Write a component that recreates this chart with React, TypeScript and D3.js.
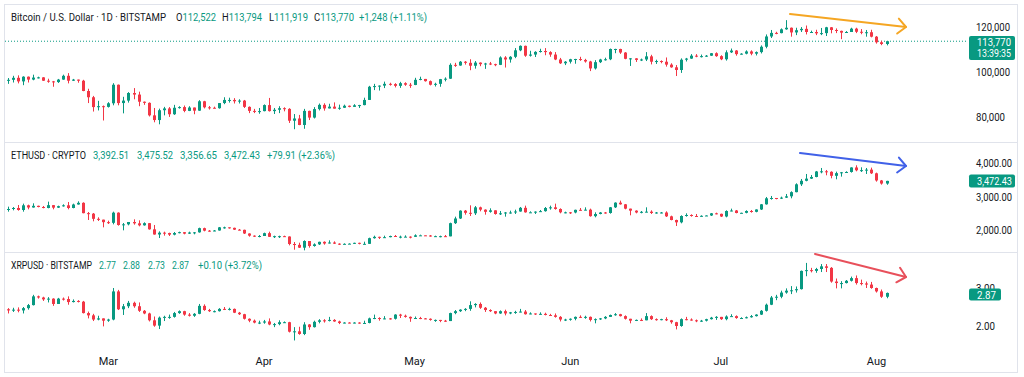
import React from "react";
import * as d3 from "d3";

// ---------- DATA (daily candles, Feb 9 – Aug 3, 2025) ----------
const startDay = new Date(2025, 1, 9);
const endDay = new Date(2025, 7, 3);
const monthTicks = ["Mar", "Apr", "May", "Jun", "Jul", "Aug"];
const monthTickDates = [new Date(2025, 2, 1), new Date(2025, 3, 1), new Date(2025, 4, 1), new Date(2025, 5, 1), new Date(2025, 6, 1), new Date(2025, 7, 1)];

// BTC in thousands USD
const btcOpen0 = 96.4;
const btcClose = [
  96.5,97.4,95.8,97.9,96.6,97.5,97.6,96.1,95.8,95.5,96.6,98.3,96.1,96.6,96.1,91.5,88.7,84.3,84.7,84.4,
  86.0,94.3,86.1,87.2,90.6,89.9,86.7,86.2,80.6,78.5,82.9,83.7,81.1,84.0,84.3,82.6,84.1,82.7,86.9,84.2,84.0,83.8,86.1,87.5,87.5,86.9,87.2,84.4,82.6,82.3,82.5,
  85.2,82.5,83.1,83.8,83.5,78.2,79.2,76.3,82.6,79.6,83.4,85.3,83.7,84.5,83.6,84.0,84.9,84.4,85.1,85.2,87.5,93.4,93.7,93.9,94.7,94.6,93.8,95.0,94.3,94.2,
  96.5,96.9,95.9,94.3,94.7,96.8,97.0,103.2,102.9,104.6,104.1,102.8,104.2,103.5,103.8,103.5,103.2,106.5,105.6,106.8,109.7,111.7,107.3,107.8,109.0,109.4,108.9,107.8,105.6,103.9,104.6,
  105.7,105.8,105.4,104.7,101.6,104.4,105.6,105.7,110.3,110.3,108.7,105.9,106.1,105.4,105.6,107.0,104.6,104.9,104.6,103.3,102.1,100.9,105.5,106.0,107.3,106.9,107.1,107.3,108.4,107.1,
  105.7,108.8,109.6,108.0,108.2,109.2,108.2,108.9,111.3,115.9,117.5,117.4,119.1,119.8,117.7,118.7,119.3,117.9,117.9,117.3,117.4,120.0,118.8,118.4,117.6,117.9,119.4,118.0,117.8,117.8,115.8,
  113.3,112.522,113.77,
];
const btcHigh = [
  97.3,98.3,98.5,98.1,98.0,98.8,97.9,97.7,97.0,96.0,96.9,98.8,99.5,96.9,96.6,96.5,92.5,89.3,87.1,85.0,
  86.5,95.0,94.4,88.9,91.0,92.8,91.2,86.8,86.4,83.9,83.6,84.4,84.3,85.3,84.7,85.0,84.7,84.0,87.4,87.1,84.8,84.5,86.1,88.7,88.5,88.3,87.8,87.5,84.6,83.5,83.9,
  85.5,88.4,83.9,84.7,84.2,83.8,81.2,80.8,83.5,82.7,84.3,85.9,86.0,85.8,86.4,85.4,85.4,85.0,85.6,85.3,88.5,93.8,94.7,94.0,95.7,95.2,95.0,95.6,95.4,95.1,
  97.4,97.9,96.9,96.2,95.2,96.9,97.6,103.9,104.1,104.9,104.9,105.7,104.9,104.3,104.1,104.5,103.7,107.0,107.1,107.1,110.7,111.9,111.8,109.5,109.3,110.4,110.7,109.3,108.9,106.3,104.9,
  105.9,105.9,106.8,105.9,105.0,105.3,105.9,106.4,110.5,110.4,110.4,108.9,106.2,106.2,106.0,108.9,107.7,105.5,105.2,106.5,103.9,103.1,106.1,106.3,108.0,108.0,107.8,107.6,108.5,108.8,
  107.5,109.7,110.5,109.8,108.4,109.7,109.7,109.2,111.9,116.8,118.8,118.0,119.5,123.2,119.9,119.8,120.1,120.8,118.5,118.9,119.7,120.2,120.1,119.5,118.5,118.3,119.8,119.8,119.2,118.8,118.9,
  116.1,114.0,113.794,
];
const btcLow = [
  94.7,95.3,94.9,94.1,95.3,96.3,97.1,96.0,95.2,93.4,95.1,96.5,94.9,96.0,95.2,91.4,86.1,82.3,82.8,78.3,
  84.1,85.1,85.1,81.5,86.3,87.8,84.7,85.3,80.1,77.5,76.6,80.6,79.9,80.8,83.6,82.0,82.5,81.1,82.6,83.7,83.2,83.7,83.6,85.6,86.3,85.9,85.9,83.9,81.6,81.6,81.3,
  82.4,82.3,81.2,81.6,82.4,77.2,74.4,76.2,74.6,78.5,79.2,82.8,82.7,83.7,83.6,83.1,83.9,84.2,84.4,83.9,85.1,87.6,91.9,91.7,92.8,93.9,93.1,92.9,93.8,92.9,
  94.1,96.3,95.7,94.0,93.5,93.4,95.8,96.9,102.3,102.8,103.3,100.8,101.5,102.6,101.4,103.1,102.6,103.1,102.0,104.2,106.2,109.3,106.8,106.9,106.7,108.7,107.5,106.8,105.3,103.6,103.1,
  103.8,103.7,105.0,104.2,100.4,101.1,104.0,105.1,105.3,108.4,108.1,105.7,102.7,104.5,104.9,104.9,103.4,103.6,103.9,102.4,101.9,98.2,99.6,104.7,105.9,106.6,106.5,106.8,107.2,106.8,
  105.3,105.1,108.5,107.3,107.8,107.9,107.5,107.4,108.3,110.6,115.2,116.9,117.3,118.9,115.8,116.5,117.9,116.8,117.5,116.5,116.5,116.1,117.3,117.4,114.7,117.5,117.9,117.4,116.9,115.8,115.5,
  112.7,112.0,111.919,
];

const ethOpen0 = 2625;
const ethClose = [
  2630,2660,2600,2740,2675,2725,2690,2660,2745,2670,2715,2740,2660,2765,2815,2505,2490,2335,2310,2235,
  2215,2520,2150,2170,2240,2200,2140,2205,2020,1865,1920,1910,1860,1910,1935,1890,1925,1930,2055,1980,1965,1985,2080,2080,2065,2010,2005,1895,1830,1805,1820,
  1905,1795,1815,1815,1805,1580,1555,1470,1670,1520,1570,1645,1595,1625,1590,1580,1585,1590,1615,1585,1585,1755,1795,1770,1785,1820,1795,1800,1800,1795,
  1840,1840,1835,1810,1815,1815,1810,2205,2345,2580,2515,2500,2680,2610,2545,2590,2480,2500,2525,2525,2555,2665,2530,2530,2550,2565,2660,2680,2630,2530,2530,
  2525,2605,2595,2610,2415,2480,2525,2510,2680,2820,2770,2640,2580,2525,2545,2550,2510,2525,2525,2410,2300,2230,2420,2450,2420,2415,2425,2435,2500,2485,
  2405,2570,2585,2510,2515,2570,2545,2615,2770,2950,2960,2945,2970,3010,3135,3370,3475,3540,3590,3755,3760,3745,3625,3705,3730,3740,3875,3790,3795,3810,3700,
  3485,3392.51,3472.43,
];
const ethHigh = [
  2700,2690,2750,2790,2760,2800,2730,2720,2850,2750,2730,2770,2840,2790,2860,2830,2540,2510,2380,2310,
  2280,2550,2530,2210,2240,2320,2290,2230,2210,2150,1960,1950,1920,1940,1950,1940,1950,1940,2070,2070,2000,2000,2090,2100,2070,2070,2030,2010,1900,1840,1850,
  1920,1950,1830,1830,1830,1810,1640,1620,1690,1670,1600,1650,1660,1690,1660,1600,1600,1600,1620,1620,1650,1770,1830,1800,1830,1830,1850,1830,1840,1810,
  1870,1860,1845,1850,1830,1830,1850,2220,2400,2590,2600,2740,2720,2700,2620,2650,2590,2570,2540,2580,2610,2690,2730,2560,2560,2600,2690,2730,2790,2650,2550,
  2540,2610,2660,2680,2640,2530,2540,2540,2690,2830,2880,2780,2640,2590,2570,2680,2590,2540,2540,2560,2430,2310,2440,2500,2470,2480,2440,2440,2510,2520,
  2490,2590,2640,2600,2520,2590,2600,2620,2780,2990,3020,2960,3000,3080,3160,3400,3530,3680,3650,3770,3860,3800,3760,3750,3740,3760,3880,3940,3880,3860,3870,
  3720,3500,3475.52,
];
const ethLow = [
  2550,2590,2580,2550,2620,2670,2680,2650,2650,2620,2660,2700,2620,2650,2760,2500,2300,2260,2270,2080,
  2180,2170,2130,1990,2140,2160,2110,2130,2010,1860,1760,1830,1820,1840,1900,1870,1880,1870,1920,1960,1950,1970,1980,2040,2040,2000,1990,1880,1800,1790,1780,
  1820,1790,1760,1760,1790,1540,1410,1460,1390,1470,1500,1550,1560,1600,1580,1550,1570,1580,1580,1570,1570,1580,1740,1730,1760,1780,1790,1750,1790,1750,
  1790,1830,1830,1800,1790,1780,1790,1810,2180,2330,2460,2420,2450,2560,2460,2520,2460,2450,2400,2490,2480,2550,2520,2520,2480,2540,2550,2610,2610,2500,2500,
  2480,2500,2580,2590,2400,2380,2470,2490,2490,2660,2760,2620,2440,2500,2500,2530,2480,2490,2500,2390,2290,2120,2200,2400,2400,2400,2400,2420,2420,2470,
  2390,2380,2560,2500,2500,2500,2520,2530,2600,2760,2910,2920,2930,2960,2950,3130,3320,3460,3530,3580,3700,3640,3550,3520,3600,3710,3720,3760,3740,3680,3680,
  3450,3360,3356.65,
];

const xrpOpen0 = 2.44;
const xrpClose = [
  2.41,2.43,2.41,2.47,2.55,2.78,2.75,2.70,2.72,2.58,2.72,2.71,2.63,2.66,2.64,2.34,2.28,2.17,2.20,2.14,
  2.17,2.91,2.44,2.52,2.61,2.52,2.40,2.33,2.15,2.01,2.22,2.24,2.24,2.34,2.39,2.30,2.27,2.32,2.53,2.42,2.39,2.39,2.45,2.44,2.45,2.35,2.31,2.19,2.14,2.09,2.09,
  2.12,2.04,2.05,2.10,2.10,1.85,1.86,1.79,2.04,1.97,2.11,2.15,2.14,2.16,2.12,2.08,2.09,2.08,2.09,2.07,2.08,2.20,2.21,2.20,2.20,2.19,2.30,2.27,2.24,2.20,
  2.21,2.20,2.19,2.16,2.16,2.14,2.13,2.34,2.39,2.43,2.45,2.55,2.58,2.48,2.42,2.39,2.33,2.39,2.33,2.36,2.37,2.38,2.31,2.33,2.32,2.32,2.29,2.28,2.24,2.17,2.17,
  2.19,2.24,2.22,2.24,2.16,2.18,2.20,2.24,2.29,2.31,2.26,2.19,2.14,2.16,2.15,2.26,2.18,2.16,2.18,2.15,2.10,2.00,2.18,2.17,2.15,2.13,2.14,2.18,2.22,2.24,
  2.18,2.25,2.26,2.21,2.21,2.23,2.26,2.30,2.40,2.56,2.75,2.77,2.88,2.93,2.94,2.97,3.45,3.47,3.45,3.50,3.57,3.53,3.17,3.13,3.13,3.19,3.26,3.13,3.12,3.09,3.00,
  2.91,2.77,2.87,
];
const xrpHigh = [
  2.47,2.48,2.49,2.50,2.58,2.82,2.80,2.77,2.76,2.73,2.74,2.75,2.78,2.70,2.68,2.66,2.38,2.32,2.27,2.20,
  2.19,3.00,2.95,2.58,2.66,2.64,2.62,2.42,2.35,2.25,2.25,2.27,2.30,2.37,2.41,2.40,2.34,2.34,2.58,2.57,2.45,2.41,2.47,2.50,2.48,2.46,2.37,2.32,2.20,2.17,2.14,
  2.16,2.20,2.08,2.15,2.12,2.11,1.97,1.98,2.10,2.05,2.14,2.18,2.18,2.24,2.18,2.14,2.10,2.10,2.10,2.10,2.14,2.22,2.30,2.23,2.26,2.21,2.31,2.32,2.30,2.25,
  2.25,2.24,2.21,2.20,2.17,2.16,2.16,2.35,2.42,2.44,2.47,2.65,2.60,2.62,2.50,2.44,2.39,2.41,2.43,2.37,2.40,2.45,2.42,2.36,2.33,2.36,2.35,2.32,2.33,2.26,2.19,
  2.20,2.25,2.28,2.27,2.25,2.20,2.21,2.26,2.30,2.34,2.32,2.28,2.19,2.17,2.20,2.34,2.28,2.20,2.19,2.23,2.16,2.11,2.20,2.24,2.20,2.17,2.16,2.19,2.24,2.26,
  2.24,2.28,2.31,2.28,2.23,2.25,2.29,2.31,2.42,2.59,2.79,2.82,2.93,2.99,3.05,3.04,3.46,3.66,3.53,3.53,3.63,3.63,3.55,3.25,3.18,3.21,3.30,3.33,3.22,3.17,3.16,
  3.01,2.96,2.88,
];
const xrpLow = [
  2.33,2.37,2.36,2.33,2.43,2.54,2.72,2.66,2.62,2.53,2.58,2.67,2.56,2.62,2.62,2.33,2.20,2.13,2.15,1.99,
  2.11,2.15,2.42,2.29,2.47,2.48,2.37,2.31,2.12,1.98,1.92,2.13,2.19,2.22,2.32,2.27,2.25,2.24,2.31,2.40,2.37,2.36,2.38,2.42,2.41,2.34,2.29,2.17,2.10,2.07,2.05,
  2.06,2.02,1.97,2.02,2.08,1.83,1.62,1.77,1.76,1.90,1.96,2.07,2.09,2.12,2.11,2.05,2.07,2.07,2.07,2.06,2.06,2.07,2.18,2.14,2.18,2.17,2.17,2.21,2.22,2.11,
  2.19,2.18,2.18,2.14,2.11,2.10,2.11,2.13,2.31,2.37,2.39,2.40,2.49,2.45,2.37,2.37,2.31,2.32,2.28,2.31,2.32,2.36,2.30,2.31,2.29,2.30,2.28,2.27,2.22,2.12,2.13,
  2.14,2.15,2.21,2.19,2.12,2.07,2.16,2.18,2.24,2.27,2.25,2.17,2.07,2.13,2.13,2.15,2.16,2.14,2.15,2.13,2.06,1.91,1.98,2.15,2.14,2.10,2.11,2.12,2.17,2.16,
  2.16,2.15,2.25,2.19,2.19,2.20,2.22,2.25,2.29,2.38,2.55,2.68,2.73,2.85,2.84,2.88,2.96,3.31,3.41,3.40,3.42,3.42,3.14,2.99,2.99,3.12,3.17,3.09,3.07,3.00,2.98,
  2.88,2.74,2.73,
];

// axis ticks
const btcTicks = [80, 100, 120];
const ethTicks = [2000, 3000, 4000];
const xrpTicks = [2, 3];

// ---------- STYLE ----------
const UP = "#089981";
const DOWN = "#f23645";
const TEXT = "#131722";
const BORDER = "#e0e3eb";
const FONT = "Roboto, 'Noto Sans', Arial, sans-serif";

const dates = d3.timeDay.range(startDay, d3.timeDay.offset(endDay, 1));
const x = d3.scaleTime().domain([startDay, endDay]).range([8, 886.5]);

const yBtc = d3.scaleLinear().domain([80, 120]).range([116.7, 27.3]);
const yEth = d3.scaleLinear().domain([2000, 4000]).range([230, 163.3]);
const yXrp = d3.scaleLinear().domain([2, 3]).range([326, 288]);

function Candles({ open0, close, high, low, y }) {
  const n = Math.min(dates.length, close.length, high.length, low.length);
  const items = [];
  for (let i = 0; i < n; i++) {
    const o = i === 0 ? open0 : close[i - 1];
    const c = close[i];
    const hi = Math.max(high[i], o, c);
    const lo = Math.min(low[i], o, c);
    const cx = Math.round(x(dates[i]));
    const col = c >= o ? UP : DOWN;
    const top = y(Math.max(o, c));
    const bot = y(Math.min(o, c));
    items.push(
      <g key={i}>
        <line x1={cx + 0.5} x2={cx + 0.5} y1={y(hi)} y2={y(lo)} stroke={col} strokeWidth={1} />
        <rect x={cx - 1} y={top} width={3} height={Math.max(1, bot - top)} fill={col} />
      </g>
    );
  }
  return <g>{items}</g>;
}

function Seg({ x: sx, y: sy, w, fill = TEXT, size = 11.5, children }) {
  return (
    <text x={sx} y={sy} textLength={w} lengthAdjust="spacingAndGlyphs" fill={fill} fontSize={size} fontFamily={FONT}>
      {children}
    </text>
  );
}

// one header line = one <text>, each part placed and fitted as a tspan
function Header({ y, parts }) {
  return (
    <text y={y} fontSize={11.5} fontFamily={FONT} lengthAdjust="spacingAndGlyphs">
      {parts.map((p, i) => (
        <tspan key={i} x={p.x} textLength={p.w} lengthAdjust="spacingAndGlyphs" fill={p.fill || TEXT}>
          {p.pre ? <tspan fill={TEXT}>{p.pre}</tspan> : null}
          {p.t}
        </tspan>
      ))}
    </text>
  );
}

function Arrow({ x1, y1, x2, y2, color }) {
  const ang = Math.atan2(y2 - y1, x2 - x1);
  const L = 11;
  const a1 = ang + Math.PI - 0.75;
  const a2 = ang + Math.PI + 0.75;
  const p1 = [x2 + L * Math.cos(a1), y2 + L * Math.sin(a1)];
  const p2 = [x2 + L * Math.cos(a2), y2 + L * Math.sin(a2)];
  return (
    <g stroke={color} strokeWidth={2} fill="none" strokeLinecap="round" strokeLinejoin="round">
      <line x1={x1} y1={y1} x2={x2} y2={y2} />
      <polyline points={`${p1[0]},${p1[1]} ${x2},${y2} ${p2[0]},${p2[1]}`} />
    </g>
  );
}

const fmtK = (v) => d3.format(",")(v * 1000);
const fmt2 = d3.format(",.2f");

const btcHeader = [
  { x: 11, w: 155, t: "Bitcoin / U.S. Dollar · 1D · BITSTAMP" },
  { x: 176, w: 40, pre: "O", t: "112,522", fill: UP },
  { x: 222, w: 40, pre: "H", t: "113,794", fill: UP },
  { x: 269, w: 39, pre: "L", t: "111,919", fill: UP },
  { x: 314, w: 40, pre: "C", t: "113,770", fill: UP },
  { x: 359, w: 68, t: "+1,248 (+1.11%)", fill: UP },
];
const ethHeader = [
  { x: 11, w: 75, t: "ETHUSD · CRYPTO" },
  { x: 93, w: 36, t: "3,392.51", fill: UP },
  { x: 137, w: 36, t: "3,475.52", fill: UP },
  { x: 180, w: 37, t: "3,356.65", fill: UP },
  { x: 224, w: 36, t: "3,472.43", fill: UP },
  { x: 267, w: 68, t: "+79.91 (+2.36%)", fill: UP },
];
const xrpHeader = [
  { x: 11, w: 81, t: "XRPUSD · BITSTAMP" },
  { x: 99, w: 17, t: "2.77", fill: UP },
  { x: 123, w: 17, t: "2.88", fill: UP },
  { x: 148, w: 17, t: "2.73", fill: UP },
  { x: 172, w: 17, t: "2.87", fill: UP },
  { x: 198, w: 64, t: "+0.10 (+3.72%)", fill: UP },
];

export default function App() {
  const btcLast = btcClose[btcClose.length - 1];
  const ethLast = ethClose[ethClose.length - 1];
  const xrpLast = xrpClose[xrpClose.length - 1];
  return (
    <svg width={1024} height={377} style={{ position: "absolute", left: 0, top: 0, background: "#fff" }}>
      <rect x={0} y={0} width={1024} height={377} fill="#fff" />
      <rect x={4.5} y={4.5} width={1013} height={368} fill="none" stroke={BORDER} />
      <line x1={4.5} x2={1017.5} y1={142.5} y2={142.5} stroke={BORDER} />
      <line x1={4.5} x2={1017.5} y1={252.5} y2={252.5} stroke={BORDER} />

      {/* BTC panel */}
      <line x1={5} x2={968} y1={yBtc(btcLast)} y2={yBtc(btcLast)} stroke={UP} strokeDasharray="1 2" />
      <Candles open0={btcOpen0} close={btcClose} high={btcHigh} low={btcLow} y={yBtc} />
      <Header y={21} parts={btcHeader} />
      {btcTicks.map((t) => (
        <Seg key={t} x={976} y={yBtc(t) + 4} w={t >= 100 ? 34 : 29} size={11}>{fmtK(t)}</Seg>
      ))}
      <rect x={969} y={36} width={46} height={24} rx={2} fill={UP} />
      <Seg x={977} y={45.5} w={34} size={11} fill="#fff">113,770</Seg>
      <Seg x={977} y={57} w={34} size={11} fill="#fff">13:39:35</Seg>
      <Arrow x1={790} y1={14} x2={906} y2={27} color="#f5a623" />

      {/* ETH panel */}
      <Candles open0={ethOpen0} close={ethClose} high={ethHigh} low={ethLow} y={yEth} />
      <Header y={159} parts={ethHeader} />
      {ethTicks.map((t) => (
        <Seg key={t} x={976} y={yEth(t) + 4} w={36} size={11}>{fmt2(t)}</Seg>
      ))}
      <rect x={969} y={174.5} width={46} height={13} rx={2} fill={UP} />
      <Seg x={977} y={185} w={35} size={11} fill="#fff">{fmt2(ethLast)}</Seg>
      <Arrow x1={800} y1={153} x2={906} y2={166} color="#4161e8" />

      {/* XRP panel */}
      <Candles open0={xrpOpen0} close={xrpClose} high={xrpHigh} low={xrpLow} y={yXrp} />
      <Header y={269} parts={xrpHeader} />
      {xrpTicks.map((t) => (
        <Seg key={t} x={976} y={yXrp(t) + 4} w={19} size={11}>{fmt2(t)}</Seg>
      ))}
      <rect x={969} y={288.5} width={32} height={12} rx={2} fill={UP} />
      <Seg x={977} y={298.5} w={19} size={11} fill="#fff">{fmt2(xrpLast)}</Seg>
      <Arrow x1={815} y1={254} x2={906} y2={277} color="#e8505b" />

      {/* time axis */}
      {monthTicks.map((m, i) => (
        <text key={m} x={x(monthTickDates[i])} y={365} textAnchor="middle" fontSize={11} fill={TEXT} fontFamily={FONT}>
          {m}
        </text>
      ))}
    </svg>
  );
}
